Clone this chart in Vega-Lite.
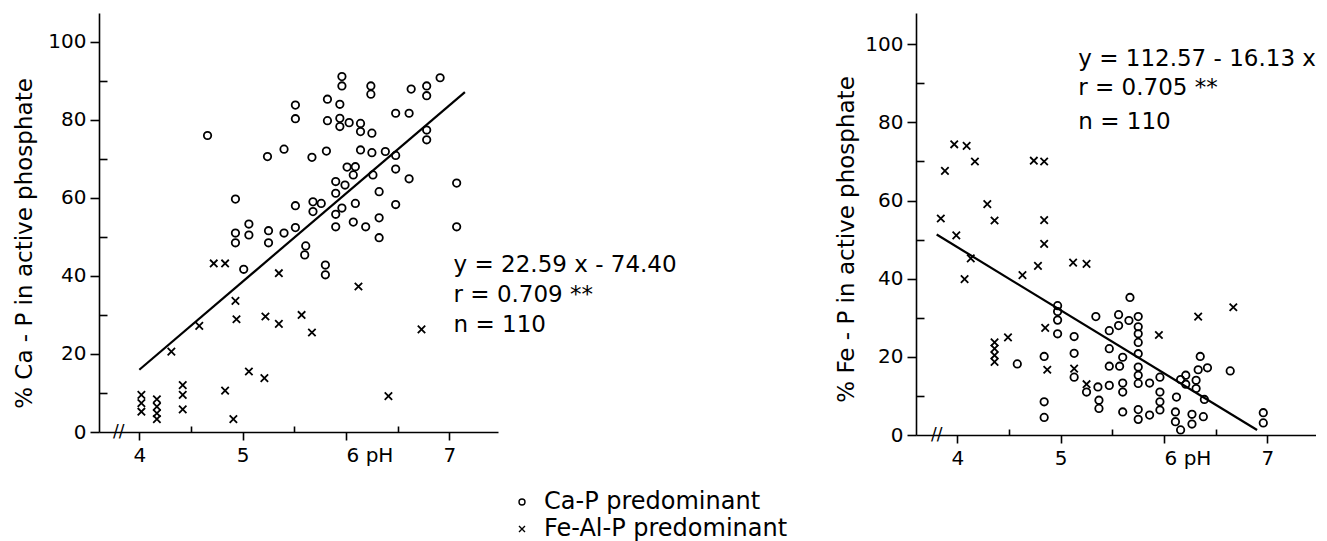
{
  "$schema": "https://vega.github.io/schema/vega-lite/v6.json",
  "autosize": {"type": "pad"},
  "padding": {"left": 12, "top": 13, "right": 0, "bottom": 0},
  "background": "white",
  "bounds": "flush",
  "spacing": 418,
  "config": {
    "font": "DejaVu Sans",
    "view": {"stroke": null},
    "axis": {
      "domainColor": "black", "tickColor": "black", "labelColor": "black", "titleColor": "black",
      "labelFont": "DejaVu Sans", "titleFont": "DejaVu Sans", "grid": false,
      "domainWidth": 1.6, "tickWidth": 1.6, "labelFontSize": 20, "titleFontSize": 23, "titleFontWeight": "normal"
    },
    "legend": {
      "orient": "none", "legendX": 411, "legendY": 477, "title": null,
      "labelFont": "DejaVu Sans", "labelFontSize": 24, "labelColor": "black", "labelLimit": 0,
      "symbolStrokeColor": "black", "symbolStrokeWidth": 1.4, "symbolSize": 36,
      "rowPadding": 3, "labelOffset": 10, "padding": 0
    }
  },
  "datasets": {
    "ca": [
      {"ph":4.66,"pct":76,"type":"Ca-P predominant"},{"ph":4.93,"pct":59.7,"type":"Ca-P predominant"},{"ph":4.93,"pct":51,"type":"Ca-P predominant"},{"ph":4.93,"pct":48.5,"type":"Ca-P predominant"},{"ph":5.01,"pct":41.7,"type":"Ca-P predominant"},{"ph":5.06,"pct":53.3,"type":"Ca-P predominant"},{"ph":5.06,"pct":50.5,"type":"Ca-P predominant"},{"ph":5.25,"pct":51.6,"type":"Ca-P predominant"},{"ph":5.25,"pct":48.5,"type":"Ca-P predominant"},{"ph":5.24,"pct":70.6,"type":"Ca-P predominant"},{"ph":5.40,"pct":72.5,"type":"Ca-P predominant"},{"ph":5.40,"pct":51,"type":"Ca-P predominant"},{"ph":5.51,"pct":83.8,"type":"Ca-P predominant"},{"ph":5.51,"pct":80.3,"type":"Ca-P predominant"},{"ph":5.51,"pct":58,"type":"Ca-P predominant"},{"ph":5.51,"pct":52.4,"type":"Ca-P predominant"},{"ph":5.61,"pct":47.7,"type":"Ca-P predominant"},{"ph":5.60,"pct":45.4,"type":"Ca-P predominant"},{"ph":5.67,"pct":70.4,"type":"Ca-P predominant"},{"ph":5.68,"pct":59,"type":"Ca-P predominant"},{"ph":5.68,"pct":56.5,"type":"Ca-P predominant"},{"ph":5.76,"pct":58.6,"type":"Ca-P predominant"},{"ph":5.80,"pct":42.8,"type":"Ca-P predominant"},{"ph":5.80,"pct":40.3,"type":"Ca-P predominant"},{"ph":5.81,"pct":72,"type":"Ca-P predominant"},{"ph":5.82,"pct":85.3,"type":"Ca-P predominant"},{"ph":5.82,"pct":79.8,"type":"Ca-P predominant"},{"ph":5.90,"pct":64.2,"type":"Ca-P predominant"},{"ph":5.90,"pct":61.2,"type":"Ca-P predominant"},{"ph":5.90,"pct":55.8,"type":"Ca-P predominant"},{"ph":5.90,"pct":52.6,"type":"Ca-P predominant"},{"ph":5.94,"pct":84,"type":"Ca-P predominant"},{"ph":5.94,"pct":80.4,"type":"Ca-P predominant"},{"ph":5.94,"pct":78.3,"type":"Ca-P predominant"},{"ph":5.96,"pct":91.1,"type":"Ca-P predominant"},{"ph":5.96,"pct":88.7,"type":"Ca-P predominant"},{"ph":5.96,"pct":57.4,"type":"Ca-P predominant"},{"ph":5.99,"pct":63.3,"type":"Ca-P predominant"},{"ph":6.03,"pct":79.3,"type":"Ca-P predominant"},{"ph":6.01,"pct":67.9,"type":"Ca-P predominant"},{"ph":6.09,"pct":68,"type":"Ca-P predominant"},{"ph":6.07,"pct":65.9,"type":"Ca-P predominant"},{"ph":6.09,"pct":58.6,"type":"Ca-P predominant"},{"ph":6.07,"pct":53.8,"type":"Ca-P predominant"},{"ph":6.14,"pct":79.1,"type":"Ca-P predominant"},{"ph":6.14,"pct":77,"type":"Ca-P predominant"},{"ph":6.14,"pct":72.3,"type":"Ca-P predominant"},{"ph":6.19,"pct":52.6,"type":"Ca-P predominant"},{"ph":6.24,"pct":88.7,"type":"Ca-P predominant"},{"ph":6.24,"pct":86.6,"type":"Ca-P predominant"},{"ph":6.25,"pct":76.6,"type":"Ca-P predominant"},{"ph":6.25,"pct":71.6,"type":"Ca-P predominant"},{"ph":6.26,"pct":65.9,"type":"Ca-P predominant"},{"ph":6.32,"pct":61.6,"type":"Ca-P predominant"},{"ph":6.32,"pct":54.9,"type":"Ca-P predominant"},{"ph":6.32,"pct":49.8,"type":"Ca-P predominant"},{"ph":6.38,"pct":71.9,"type":"Ca-P predominant"},{"ph":6.48,"pct":81.7,"type":"Ca-P predominant"},{"ph":6.48,"pct":70.9,"type":"Ca-P predominant"},{"ph":6.48,"pct":67.4,"type":"Ca-P predominant"},{"ph":6.48,"pct":58.3,"type":"Ca-P predominant"},{"ph":6.61,"pct":81.7,"type":"Ca-P predominant"},{"ph":6.61,"pct":64.9,"type":"Ca-P predominant"},{"ph":6.63,"pct":87.9,"type":"Ca-P predominant"},{"ph":6.78,"pct":88.7,"type":"Ca-P predominant"},{"ph":6.78,"pct":86.2,"type":"Ca-P predominant"},{"ph":6.78,"pct":77.4,"type":"Ca-P predominant"},{"ph":6.78,"pct":74.9,"type":"Ca-P predominant"},{"ph":6.91,"pct":90.8,"type":"Ca-P predominant"},{"ph":7.07,"pct":63.8,"type":"Ca-P predominant"},{"ph":7.07,"pct":52.6,"type":"Ca-P predominant"},
      {"ph":4.02,"pct":9.5,"type":"Fe-Al-P predominant"},{"ph":4.02,"pct":7.4,"type":"Fe-Al-P predominant"},{"ph":4.02,"pct":5.2,"type":"Fe-Al-P predominant"},{"ph":4.17,"pct":8.4,"type":"Fe-Al-P predominant"},{"ph":4.17,"pct":6.5,"type":"Fe-Al-P predominant"},{"ph":4.17,"pct":4.8,"type":"Fe-Al-P predominant"},{"ph":4.17,"pct":3.3,"type":"Fe-Al-P predominant"},{"ph":4.42,"pct":12,"type":"Fe-Al-P predominant"},{"ph":4.42,"pct":9.5,"type":"Fe-Al-P predominant"},{"ph":4.42,"pct":5.8,"type":"Fe-Al-P predominant"},{"ph":4.31,"pct":20.6,"type":"Fe-Al-P predominant"},{"ph":4.58,"pct":27.2,"type":"Fe-Al-P predominant"},{"ph":4.72,"pct":43.2,"type":"Fe-Al-P predominant"},{"ph":4.83,"pct":43.2,"type":"Fe-Al-P predominant"},{"ph":4.83,"pct":10.6,"type":"Fe-Al-P predominant"},{"ph":4.91,"pct":3.3,"type":"Fe-Al-P predominant"},{"ph":4.93,"pct":33.6,"type":"Fe-Al-P predominant"},{"ph":4.94,"pct":28.9,"type":"Fe-Al-P predominant"},{"ph":5.06,"pct":15.5,"type":"Fe-Al-P predominant"},{"ph":5.21,"pct":13.8,"type":"Fe-Al-P predominant"},{"ph":5.22,"pct":29.6,"type":"Fe-Al-P predominant"},{"ph":5.35,"pct":27.7,"type":"Fe-Al-P predominant"},{"ph":5.35,"pct":40.7,"type":"Fe-Al-P predominant"},{"ph":5.57,"pct":30,"type":"Fe-Al-P predominant"},{"ph":5.67,"pct":25.5,"type":"Fe-Al-P predominant"},{"ph":6.12,"pct":37.3,"type":"Fe-Al-P predominant"},{"ph":6.41,"pct":9.2,"type":"Fe-Al-P predominant"},{"ph":6.73,"pct":26.3,"type":"Fe-Al-P predominant"}
    ],
    "fe": [
      {"ph":5.67,"pct":35.2,"type":"Ca-P predominant"},{"ph":4.97,"pct":33.1,"type":"Ca-P predominant"},{"ph":4.97,"pct":31.6,"type":"Ca-P predominant"},{"ph":4.97,"pct":29.4,"type":"Ca-P predominant"},{"ph":5.34,"pct":30.3,"type":"Ca-P predominant"},{"ph":5.56,"pct":30.8,"type":"Ca-P predominant"},{"ph":5.66,"pct":29.3,"type":"Ca-P predominant"},{"ph":5.75,"pct":30.3,"type":"Ca-P predominant"},{"ph":5.56,"pct":28,"type":"Ca-P predominant"},{"ph":5.75,"pct":27.7,"type":"Ca-P predominant"},{"ph":5.75,"pct":25.9,"type":"Ca-P predominant"},{"ph":5.75,"pct":23.7,"type":"Ca-P predominant"},{"ph":5.47,"pct":26.7,"type":"Ca-P predominant"},{"ph":4.97,"pct":25.9,"type":"Ca-P predominant"},{"ph":5.13,"pct":25.2,"type":"Ca-P predominant"},{"ph":5.47,"pct":22.1,"type":"Ca-P predominant"},{"ph":5.13,"pct":20.9,"type":"Ca-P predominant"},{"ph":4.84,"pct":20.1,"type":"Ca-P predominant"},{"ph":5.75,"pct":20.8,"type":"Ca-P predominant"},{"ph":5.6,"pct":19.9,"type":"Ca-P predominant"},{"ph":4.58,"pct":18.2,"type":"Ca-P predominant"},{"ph":5.47,"pct":17.6,"type":"Ca-P predominant"},{"ph":5.57,"pct":17.6,"type":"Ca-P predominant"},{"ph":5.75,"pct":17.4,"type":"Ca-P predominant"},{"ph":6.35,"pct":20.1,"type":"Ca-P predominant"},{"ph":6.33,"pct":16.7,"type":"Ca-P predominant"},{"ph":6.42,"pct":17.2,"type":"Ca-P predominant"},{"ph":6.64,"pct":16.4,"type":"Ca-P predominant"},{"ph":5.75,"pct":15.3,"type":"Ca-P predominant"},{"ph":5.75,"pct":13.2,"type":"Ca-P predominant"},{"ph":5.86,"pct":13.3,"type":"Ca-P predominant"},{"ph":5.96,"pct":14.8,"type":"Ca-P predominant"},{"ph":5.13,"pct":14.8,"type":"Ca-P predominant"},{"ph":6.16,"pct":14.2,"type":"Ca-P predominant"},{"ph":6.21,"pct":15.3,"type":"Ca-P predominant"},{"ph":6.21,"pct":13,"type":"Ca-P predominant"},{"ph":6.31,"pct":14,"type":"Ca-P predominant"},{"ph":6.31,"pct":11.9,"type":"Ca-P predominant"},{"ph":5.36,"pct":12.3,"type":"Ca-P predominant"},{"ph":5.47,"pct":12.7,"type":"Ca-P predominant"},{"ph":5.6,"pct":13.3,"type":"Ca-P predominant"},{"ph":5.6,"pct":11,"type":"Ca-P predominant"},{"ph":5.25,"pct":11,"type":"Ca-P predominant"},{"ph":5.37,"pct":8.9,"type":"Ca-P predominant"},{"ph":5.37,"pct":6.8,"type":"Ca-P predominant"},{"ph":4.84,"pct":8.5,"type":"Ca-P predominant"},{"ph":4.84,"pct":4.5,"type":"Ca-P predominant"},{"ph":5.6,"pct":5.9,"type":"Ca-P predominant"},{"ph":5.75,"pct":6.5,"type":"Ca-P predominant"},{"ph":5.75,"pct":4,"type":"Ca-P predominant"},{"ph":5.86,"pct":5.1,"type":"Ca-P predominant"},{"ph":5.96,"pct":11,"type":"Ca-P predominant"},{"ph":5.96,"pct":8.5,"type":"Ca-P predominant"},{"ph":5.96,"pct":6.4,"type":"Ca-P predominant"},{"ph":6.12,"pct":9.7,"type":"Ca-P predominant"},{"ph":6.11,"pct":5.9,"type":"Ca-P predominant"},{"ph":6.11,"pct":3.4,"type":"Ca-P predominant"},{"ph":6.16,"pct":1.3,"type":"Ca-P predominant"},{"ph":6.27,"pct":5.3,"type":"Ca-P predominant"},{"ph":6.27,"pct":2.8,"type":"Ca-P predominant"},{"ph":6.38,"pct":4.7,"type":"Ca-P predominant"},{"ph":6.39,"pct":9.1,"type":"Ca-P predominant"},{"ph":6.96,"pct":5.7,"type":"Ca-P predominant"},{"ph":6.96,"pct":3.1,"type":"Ca-P predominant"},
      {"ph":3.97,"pct":74.4,"type":"Fe-Al-P predominant"},{"ph":4.09,"pct":74.0,"type":"Fe-Al-P predominant"},{"ph":3.88,"pct":67.6,"type":"Fe-Al-P predominant"},{"ph":4.17,"pct":70,"type":"Fe-Al-P predominant"},{"ph":4.74,"pct":70.2,"type":"Fe-Al-P predominant"},{"ph":4.84,"pct":70,"type":"Fe-Al-P predominant"},{"ph":4.29,"pct":59.1,"type":"Fe-Al-P predominant"},{"ph":3.84,"pct":55.4,"type":"Fe-Al-P predominant"},{"ph":4.36,"pct":54.9,"type":"Fe-Al-P predominant"},{"ph":4.84,"pct":55,"type":"Fe-Al-P predominant"},{"ph":3.99,"pct":51.1,"type":"Fe-Al-P predominant"},{"ph":4.84,"pct":48.9,"type":"Fe-Al-P predominant"},{"ph":4.13,"pct":45.2,"type":"Fe-Al-P predominant"},{"ph":4.07,"pct":39.9,"type":"Fe-Al-P predominant"},{"ph":4.63,"pct":40.9,"type":"Fe-Al-P predominant"},{"ph":4.78,"pct":43.3,"type":"Fe-Al-P predominant"},{"ph":5.12,"pct":44.1,"type":"Fe-Al-P predominant"},{"ph":5.25,"pct":43.8,"type":"Fe-Al-P predominant"},{"ph":4.36,"pct":23.7,"type":"Fe-Al-P predominant"},{"ph":4.36,"pct":22.1,"type":"Fe-Al-P predominant"},{"ph":4.36,"pct":20.4,"type":"Fe-Al-P predominant"},{"ph":4.36,"pct":18.7,"type":"Fe-Al-P predominant"},{"ph":4.49,"pct":25,"type":"Fe-Al-P predominant"},{"ph":4.85,"pct":27.4,"type":"Fe-Al-P predominant"},{"ph":4.87,"pct":16.7,"type":"Fe-Al-P predominant"},{"ph":5.13,"pct":17,"type":"Fe-Al-P predominant"},{"ph":5.25,"pct":13,"type":"Fe-Al-P predominant"},{"ph":5.95,"pct":25.6,"type":"Fe-Al-P predominant"},{"ph":6.33,"pct":30.3,"type":"Fe-Al-P predominant"},{"ph":6.67,"pct":32.7,"type":"Fe-Al-P predominant"}
    ],
    "caline": [{"ph":4.0,"pct":15.96},{"ph":7.15,"pct":87.12}],
    "feline": [{"ph":3.8,"pct":51.3},{"ph":6.9,"pct":1.27}],
    "canote": [
      {"ph":7.04,"pct":42.8,"label":"y = 22.59 x - 74.40"},
      {"ph":7.04,"pct":35.1,"label":"r = 0.709 **"},
      {"ph":7.04,"pct":27.4,"label":"n = 110"}
    ],
    "fenote": [
      {"ph":5.17,"pct":96.2,"label":"y = 112.57 - 16.13 x"},
      {"ph":5.17,"pct":88.8,"label":"r = 0.705 **"},
      {"ph":5.17,"pct":80.1,"label":"n = 110"}
    ],
    "brk": [{"ph":3.8,"pct":0,"label":"//"}]
  },
  "hconcat": [
    {
      "width": 399, "height": 419,
      "layer": [
        {
          "data": {"name": "ca"},
          "mark": {"type": "point", "filled": false, "stroke": "black", "strokeWidth": 1.8, "size": 55, "opacity": 1},
          "encoding": {
            "x": {"field": "ph", "type": "quantitative", "scale": {"domain": [3.61, 7.47], "nice": false, "zero": false},
              "axis": {"title": null, "values": [4,4.5,5,5.5,6,6.5,7],
                "labelExpr": "datum.value==4?'4':datum.value==5?'5':datum.value==6?'6 pH':datum.value==7?'7':''",
                "tickSize": {"condition": {"test": "datum.value % 1 == 0", "value": 8}, "value": -6},
                "labelAlign": {"condition": {"test": "datum.value == 6", "value": "left"}, "value": "center"},
                "labelPadding": 5, "labelFlush": false, "labelOverlap": false}},
            "y": {"field": "pct", "type": "quantitative", "scale": {"domain": [0, 107.4], "nice": false},
              "axis": {"title": "% Ca - P in active phosphate", "values": [0,10,20,30,40,50,60,70,80,90,100],
                "labelExpr": "datum.value % 20 == 0 ? datum.label : ''",
                "tickSize": {"condition": {"test": "datum.value % 20 == 0", "value": 9}, "value": -8},
                "labelPadding": 4, "labelOverlap": false,
                "titleX": -75, "titleY": 230, "titleAngle": 270, "titleAlign": "center", "titleBaseline": "middle"}},
            "shape": {"field": "type", "type": "nominal",
              "scale": {"domain": ["Ca-P predominant", "Fe-Al-P predominant"], "range": ["circle", "M-1,-1L1,1M1,-1L-1,1"]}}
          }
        },
        {
          "data": {"name": "caline"},
          "mark": {"type": "line", "color": "black", "strokeWidth": 2.2},
          "encoding": {"x": {"field": "ph", "type": "quantitative"}, "y": {"field": "pct", "type": "quantitative"}}
        },
        {
          "data": {"name": "canote"},
          "mark": {"type": "text", "align": "left", "baseline": "middle", "fontSize": 23, "color": "black"},
          "encoding": {"x": {"field": "ph", "type": "quantitative"}, "y": {"field": "pct", "type": "quantitative"}, "text": {"field": "label"}}
        },
        {
          "data": {"name": "brk"},
          "mark": {"type": "text", "align": "center", "baseline": "middle", "fontSize": 17, "color": "black"},
          "encoding": {"x": {"field": "ph", "type": "quantitative"}, "y": {"field": "pct", "type": "quantitative"}, "text": {"field": "label"}}
        }
      ]
    },
    {
      "width": 400, "height": 422,
      "layer": [
        {
          "data": {"name": "fe"},
          "mark": {"type": "point", "filled": false, "stroke": "black", "strokeWidth": 1.8, "size": 55, "opacity": 1},
          "encoding": {
            "x": {"field": "ph", "type": "quantitative", "scale": {"domain": [3.6, 7.47], "nice": false, "zero": false},
              "axis": {"title": null, "values": [4,4.5,5,5.5,6,6.5,7],
                "labelExpr": "datum.value==4?'4':datum.value==5?'5':datum.value==6?'6 pH':datum.value==7?'7':''",
                "tickSize": {"condition": {"test": "datum.value % 1 == 0", "value": 8}, "value": -6},
                "labelAlign": {"condition": {"test": "datum.value == 6", "value": "left"}, "value": "center"},
                "labelPadding": 5, "labelFlush": false, "labelOverlap": false}},
            "y": {"field": "pct", "type": "quantitative", "scale": {"domain": [0, 108], "nice": false},
              "axis": {"title": "% Fe - P in active phosphate", "values": [0,10,20,30,40,50,60,70,80,90,100],
                "labelExpr": "datum.value % 20 == 0 ? datum.label : ''",
                "tickSize": {"condition": {"test": "datum.value % 20 == 0", "value": 9}, "value": -8},
                "labelPadding": 4, "labelOverlap": false,
                "titleX": -70, "titleY": 226, "titleAngle": 270, "titleAlign": "center", "titleBaseline": "middle"}},
            "shape": {"field": "type", "type": "nominal",
              "scale": {"domain": ["Ca-P predominant", "Fe-Al-P predominant"], "range": ["circle", "M-1,-1L1,1M1,-1L-1,1"]}}
          }
        },
        {
          "data": {"name": "feline"},
          "mark": {"type": "line", "color": "black", "strokeWidth": 2.2},
          "encoding": {"x": {"field": "ph", "type": "quantitative"}, "y": {"field": "pct", "type": "quantitative"}}
        },
        {
          "data": {"name": "fenote"},
          "mark": {"type": "text", "align": "left", "baseline": "middle", "fontSize": 23, "color": "black"},
          "encoding": {"x": {"field": "ph", "type": "quantitative"}, "y": {"field": "pct", "type": "quantitative"}, "text": {"field": "label"}}
        },
        {
          "data": {"name": "brk"},
          "mark": {"type": "text", "align": "center", "baseline": "middle", "fontSize": 17, "color": "black"},
          "encoding": {"x": {"field": "ph", "type": "quantitative"}, "y": {"field": "pct", "type": "quantitative"}, "text": {"field": "label"}}
        }
      ]
    }
  ],
  "resolve": {"scale": {"shape": "shared"}, "legend": {"shape": "shared"}}
}
